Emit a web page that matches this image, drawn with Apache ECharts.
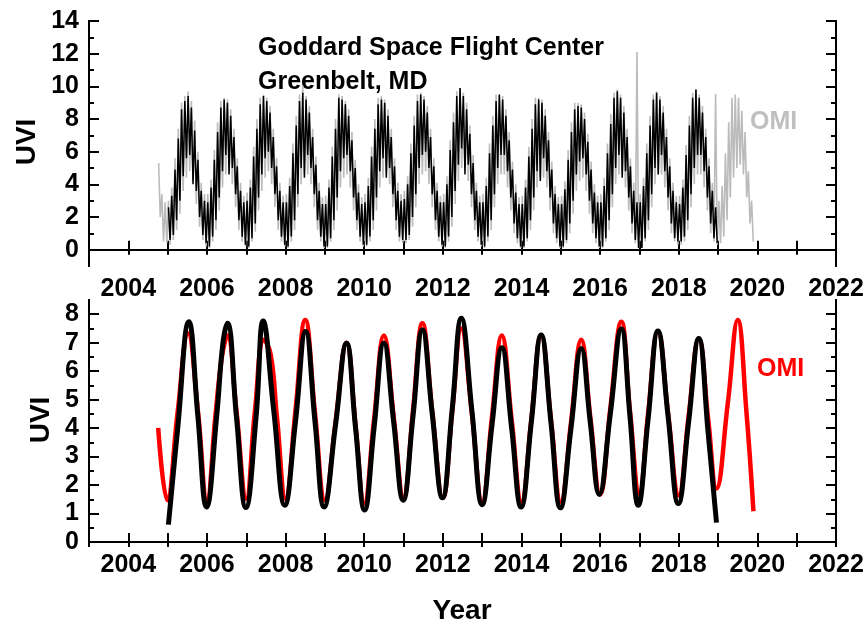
<!DOCTYPE html>
<html>
<head>
<meta charset="utf-8">
<script src="https://cdn.jsdelivr.net/npm/echarts@6/dist/echarts.min.js"></script>
<style>
html,body{margin:0;padding:0;background:#fff;}
#chart{width:868px;height:625px;}
</style>
</head>
<body>
<div id="chart"></div>
<script>
// ---------- Top panel: daily UVI, summarized as monthly high / low readings ----------
// OMI (gray): Oct 2004 .. Nov 2019
const omiStart = [2004, 9];   // year, month index (0 = Jan)
const omiDailyHi = [
  5.3,3.4,2.9,
  3.0,3.8,5.6,7.4,9.0,9.4,9.7,9.1,7.9,6.0,4.1,3.4,
  3.4,4.3,6.1,7.8,9.1,9.3,9.2,8.6,7.4,5.6,4.1,3.3,
  3.5,4.3,6.3,8.0,9.3,9.5,9.3,8.8,7.4,5.6,4.1,3.3,
  3.4,4.4,6.5,8.2,9.5,10.05,9.4,8.8,7.4,5.7,4.1,3.2,
  3.3,4.3,6.3,8.0,9.5,9.4,9.1,8.6,7.2,5.5,4.0,3.2,
  3.4,4.4,6.3,8.0,9.3,9.4,9.2,8.6,7.4,5.6,4.1,3.4,
  3.6,4.5,6.5,8.2,9.5,9.6,9.4,8.8,7.4,5.6,4.1,3.3,
  3.4,4.5,6.7,8.4,9.7,9.9,9.6,9.0,7.6,5.8,4.1,3.3,
  3.4,4.4,6.5,8.2,9.5,9.5,9.4,8.6,7.2,5.4,4.0,3.2,
  3.3,4.3,6.3,8.0,9.3,9.3,9.2,8.6,7.2,5.4,3.9,3.2,
  3.3,4.2,6.1,7.8,9.0,9.0,8.9,8.4,7.1,5.4,4.0,3.3,
  3.4,4.4,6.5,8.3,9.6,9.8,9.5,8.8,7.4,5.6,4.1,12.1,
  3.4,4.4,6.5,8.2,9.5,9.7,9.4,8.8,7.4,5.6,4.1,3.3,
  3.3,4.3,6.4,8.2,9.6,9.8,9.5,8.8,7.4,5.6,4.1,9.55,
  3.0,3.9,5.9,7.8,9.3,9.5,9.3,8.5,7.2,4.8,3.0
];
const omiDailyLo = [
  2.0,0.5,0.4,
  0.3,0.6,1.2,2.2,3.6,4.4,4.8,4.2,2.8,1.4,0.6,0.2,
  0.1,0.5,1.2,2.4,3.8,4.6,4.8,4.0,2.6,1.2,0.5,0.2,
  0.1,0.5,1.1,2.4,3.6,4.4,4.8,4.0,2.6,1.2,0.5,0.2,
  0.1,0.5,1.2,2.6,4.0,4.6,4.6,4.0,2.6,1.2,0.5,0.1,
  0.1,0.5,1.2,2.4,3.8,4.4,4.6,3.8,2.4,1.2,0.5,0.2,
  0.2,0.5,1.2,2.4,3.8,4.4,4.6,4.0,2.6,1.2,0.5,0.4,
  0.4,0.6,1.4,2.6,4.0,4.6,4.8,4.0,2.6,1.2,0.5,0.2,
  0.1,0.5,1.4,2.8,4.2,5.0,5.0,4.2,2.6,1.2,0.5,0.2,
  0.1,0.5,1.2,2.6,4.0,4.6,4.6,3.8,2.4,1.0,0.4,0.1,
  0.1,0.5,1.2,2.4,3.8,4.4,4.4,3.8,2.4,1.0,0.4,0.1,
  0.1,0.4,1.0,2.2,3.6,4.2,4.4,3.6,2.2,1.0,0.4,0.1,
  0.1,0.5,1.2,2.6,4.0,4.6,4.6,3.8,2.4,1.0,0.4,0.1,
  0.1,0.5,1.2,2.6,4.0,4.6,4.6,3.8,2.4,1.0,0.5,0.3,
  0.3,0.5,1.2,2.6,4.0,4.6,4.6,3.8,2.4,1.0,0.5,0.3,
  0.4,0.8,1.8,3.2,4.4,5.0,5.2,4.6,3.2,1.6,0.5
];
// Ground-based (black): Jan 2005 .. Dec 2018
const gbStart = [2005, 0];
const gbDailyHi = [
  2.6,3.3,4.9,6.8,8.6,9.1,9.4,8.7,7.3,5.5,3.6,3.0,
  2.9,3.8,5.5,7.2,8.7,9.2,9.0,8.2,6.9,5.1,3.6,2.9,
  3.0,3.8,5.7,7.4,8.9,9.4,9.1,8.4,6.9,5.1,3.6,2.9,
  2.9,3.9,5.9,7.6,9.1,9.6,9.2,8.4,6.9,5.2,3.6,2.8,
  2.8,3.8,5.7,7.4,9.3,9.2,8.9,8.2,6.7,5.0,3.5,2.8,
  2.9,3.9,5.7,7.4,8.9,9.2,9.0,8.2,6.9,5.1,3.6,3.0,
  3.1,4.0,5.9,7.6,9.1,9.5,9.2,8.4,6.9,5.1,3.6,2.9,
  2.9,4.0,6.1,7.8,9.4,9.9,9.4,8.6,7.1,5.3,3.6,2.9,
  2.9,3.9,5.9,7.6,9.1,9.5,9.2,8.2,6.7,4.9,3.5,2.8,
  2.8,3.8,5.7,7.4,8.9,9.2,9.0,8.2,6.7,4.9,3.4,2.8,
  2.8,3.7,5.5,7.2,8.6,8.8,8.7,8.0,6.6,4.9,3.5,2.9,
  2.9,3.9,5.9,7.7,9.3,9.7,9.3,8.4,6.9,5.1,3.6,2.9,
  2.9,3.9,5.9,7.6,9.2,9.6,9.2,8.4,6.9,5.1,3.6,2.9,
  2.8,3.8,5.8,7.6,9.3,9.8,9.3,8.4,6.9,5.1,3.6,2.6
];
const gbDailyLo = [
  0.6,0.9,1.8,3.0,4.5,5.6,5.8,4.0,3.6,2.0,0.9,0.4,
  0.2,0.8,1.8,3.2,4.8,5.8,4.6,5.0,3.4,1.8,0.8,0.3,
  0.2,0.7,1.6,3.2,4.6,5.6,6.0,5.0,3.4,1.8,0.8,0.3,
  0.2,0.8,1.8,3.4,5.0,4.4,5.8,5.0,3.4,1.8,0.8,0.2,
  0.2,0.7,1.8,3.2,4.8,5.6,5.8,4.8,3.2,1.8,0.8,0.3,
  0.3,0.8,1.8,3.2,4.8,5.6,4.4,5.0,3.4,1.8,0.8,0.6,
  0.6,0.9,2.0,3.4,5.0,5.8,6.0,5.0,3.4,1.8,0.8,0.3,
  0.2,0.8,2.0,3.6,5.2,6.2,4.6,5.2,3.4,1.8,0.8,0.3,
  0.2,0.8,1.8,3.4,5.0,5.8,5.8,4.8,3.2,1.6,0.7,0.2,
  0.2,0.7,1.8,3.2,4.8,4.2,5.6,4.8,3.2,1.6,0.7,0.2,
  0.2,0.6,1.6,3.0,4.6,5.4,5.6,4.6,3.0,1.6,0.7,0.2,
  0.2,0.7,1.8,3.4,5.0,5.8,4.4,4.8,3.2,1.6,0.6,0.1,
  0.1,0.7,1.8,3.4,5.0,4.6,5.8,4.8,3.2,1.6,0.7,0.5,
  0.5,0.8,1.8,3.4,5.0,5.8,5.8,4.8,3.2,1.6,0.7,0.4
];

// ---------- Bottom panel: fitted seasonal curves ----------
const omiFitYear = [
  2004.76,2004.99,2005.25,2005.52,2005.77,2006.0,2006.22,2006.38,2006.52,2006.75,
  2007.0,2007.22,2007.45,2007.62,2007.78,2008.0,2008.25,2008.5,2008.75,2009.0,
  2009.27,2009.55,2009.78,2010.0,2010.25,2010.5,2010.75,2011.0,2011.24,2011.48,
  2011.73,2012.0,2012.24,2012.47,2012.74,2013.0,2013.25,2013.5,2013.75,2014.0,
  2014.25,2014.5,2014.75,2015.0,2015.26,2015.52,2015.75,2016.0,2016.26,2016.54,
  2016.76,2017.0,2017.22,2017.47,2017.73,2018.0,2018.25,2018.51,2018.75,2018.96,
  2019.25,2019.5,2019.72,2019.9
];
const omiFitUVI = [
  4.01,1.47,4.5,7.33,4.6,1.47,4.5,6.5,7.25,4.6,
  1.53,4.6,7.1,6.6,4.4,1.53,4.6,7.8,4.5,1.47,
  4.2,7.0,4.1,1.35,4.3,7.25,4.4,1.55,4.6,7.68,
  4.6,1.55,4.6,7.5,4.5,1.4,4.4,7.25,4.3,1.41,
  4.3,7.27,4.3,1.4,4.2,7.1,4.4,1.67,4.7,7.74,
  4.6,1.7,4.5,7.4,4.5,1.64,4.4,7.15,4.3,1.88,
  4.9,7.8,4.6,1.08
];
const gbFitYear = [
  2005.02,2005.25,2005.54,2005.77,2005.99,2006.25,2006.40,2006.52,2006.75,2006.99,
  2007.25,2007.43,2007.70,2007.98,2008.25,2008.51,2008.75,2008.98,2009.27,2009.55,
  2009.78,2010.01,2010.25,2010.50,2010.75,2010.99,2011.24,2011.48,2011.73,2011.99,
  2012.24,2012.47,2012.74,2013.0,2013.25,2013.50,2013.75,2013.99,2014.25,2014.50,
  2014.75,2014.99,2015.26,2015.52,2015.75,2015.98,2016.26,2016.54,2016.76,2016.97,
  2017.22,2017.47,2017.73,2017.99,2018.25,2018.51,2018.75,2018.96
];
const gbFitUVI = [
  0.61,3.9,7.74,4.4,1.23,4.46,6.92,7.68,4.4,1.21,
  4.4,7.76,4.6,1.29,4.2,7.39,4.2,1.23,4.1,6.98,
  4.0,1.12,4.0,6.98,4.2,1.47,4.4,7.45,4.5,1.55,
  4.7,7.86,4.6,1.31,4.1,6.82,4.0,1.23,4.2,7.27,
  4.2,1.2,4.0,6.8,4.2,1.67,4.5,7.48,4.4,1.29,
  4.3,7.41,4.4,1.35,4.2,7.15,3.8,0.68
];

// axis tick labels
const yearLabels = [2004,2006,2008,2010,2012,2014,2016,2018,2020,2022];
const topUVILabels = [0,2,4,6,8,10,12,14];
const bottomUVILabels = [0,1,2,3,4,5,6,7,8];

// ---------- helpers ----------
function monthlyZigzag(start, hi, lo) {
  const pts = [];
  for (let i = 0; i < hi.length; i++) {
    const m = start[1] + i;
    pts.push([start[0] + (m + 0.25) / 12, hi[i]]);
    pts.push([start[0] + (m + 0.75) / 12, lo[i]]);
  }
  return pts;
}
function pairs(xs, ys) { return xs.map((x, i) => [x, ys[i]]); }

const FONT = '"Liberation Sans", Arial, sans-serif';
const lineStyle = { color: '#000', width: 2 };
const labelStyle = { color: '#000', fontSize: 25, fontWeight: 'bold', fontFamily: FONT };

function xAxes(gridIndex) {
  return [
    { type: 'value', gridIndex, position: 'bottom', min: 2003, max: 2022, interval: 1,
      axisLine: { show: true, lineStyle },
      axisTick: { show: true, inside: true, length: 9, lineStyle },
      axisLabel: Object.assign({ customValues: yearLabels, margin: 11, formatter: v => String(v) }, labelStyle),
      splitLine: { show: false } },
    { type: 'value', gridIndex, position: 'top', min: 2003, max: 2022, interval: 1,
      axisLine: { show: true, lineStyle },
      axisTick: { show: true, inside: true, length: 5, lineStyle },
      axisLabel: { show: false }, splitLine: { show: false } }
  ];
}
function yAxes(gridIndex, min, max, labels, minors) {
  const base = { type: 'value', gridIndex, min, max, splitLine: { show: false },
                 axisLine: { show: true, onZero: false, lineStyle } };
  return [
    Object.assign({}, base, { position: 'left',
      axisTick: { show: true, inside: true, length: 10, lineStyle, customValues: labels },
      axisLabel: Object.assign({ customValues: labels, margin: 10, formatter: v => String(v) }, labelStyle) }),
    Object.assign({}, base, { position: 'left',
      axisTick: { show: true, inside: true, length: 5, lineStyle, customValues: minors },
      axisLabel: { show: false } }),
    Object.assign({}, base, { position: 'right',
      axisTick: { show: true, inside: true, length: 10, lineStyle, customValues: labels },
      axisLabel: { show: false } }),
    Object.assign({}, base, { position: 'right',
      axisTick: { show: true, inside: true, length: 5, lineStyle, customValues: minors },
      axisLabel: { show: false } })
  ];
}

const topMinor = [1,3,5,7,9,11,13];
const bottomMinor = [0.5,1.5,2.5,3.5,4.5,5.5,6.5,7.5];

const chart = echarts.init(document.getElementById('chart'), null, { renderer: 'canvas' });
chart.setOption({
  animation: false,
  backgroundColor: '#fff',
  grid: [
    { left: 89, right: 32, top: 21, height: 245, outerBoundsMode: 'none' },
    { left: 89, right: 32, top: 300, height: 242, outerBoundsMode: 'none' }
  ],
  xAxis: xAxes(0).concat(xAxes(1)),
  yAxis: yAxes(0, -1, 14, topUVILabels, topMinor).concat(yAxes(1, 0, 8.5, bottomUVILabels, bottomMinor)),
  series: [
    { type: 'line', name: 'OMI daily', xAxisIndex: 0, yAxisIndex: 0,
      data: monthlyZigzag(omiStart, omiDailyHi, omiDailyLo),
      showSymbol: false, lineStyle: { color: '#bbbbbb', width: 1.6, join: 'bevel' } },
    { type: 'line', name: 'Ground daily', xAxisIndex: 0, yAxisIndex: 0,
      data: monthlyZigzag(gbStart, gbDailyHi, gbDailyLo),
      showSymbol: false, lineStyle: { color: '#000', width: 1.5, join: 'bevel' } },
    { type: 'line', name: 'OMI fit', xAxisIndex: 2, yAxisIndex: 4,
      data: pairs(omiFitYear, omiFitUVI), smooth: 0.45,
      showSymbol: false, lineStyle: { color: '#ff0000', width: 4.5 } },
    { type: 'line', name: 'Ground fit', xAxisIndex: 2, yAxisIndex: 4,
      data: pairs(gbFitYear, gbFitUVI), smooth: 0.45,
      showSymbol: false, lineStyle: { color: '#000', width: 5 } }
  ],
  graphic: [
    { type: 'text', x: 258, y: 48, style: { text: 'Goddard Space Flight Center', font: 'bold 25px ' + FONT, fill: '#000', verticalAlign: 'middle' } },
    { type: 'text', x: 258, y: 82, style: { text: 'Greenbelt, MD', font: 'bold 25px ' + FONT, fill: '#000', verticalAlign: 'middle' } },
    { type: 'text', x: 750, y: 122, style: { text: 'OMI', font: 'bold 25px ' + FONT, fill: '#bfbfbf', verticalAlign: 'middle' } },
    { type: 'text', x: 757, y: 369, style: { text: 'OMI', font: 'bold 25px ' + FONT, fill: '#ff0000', verticalAlign: 'middle' } },
    { type: 'text', x: 27, y: 142, rotation: Math.PI / 2, style: { text: 'UVI', font: 'bold 28px ' + FONT, fill: '#000', align: 'center', verticalAlign: 'middle' } },
    { type: 'text', x: 41, y: 420, rotation: Math.PI / 2, style: { text: 'UVI', font: 'bold 28px ' + FONT, fill: '#000', align: 'center', verticalAlign: 'middle' } },
    { type: 'text', x: 462, y: 611, style: { text: 'Year', font: 'bold 28px ' + FONT, fill: '#000', align: 'center', verticalAlign: 'middle' } }
  ]
});
</script>
</body>
</html>
